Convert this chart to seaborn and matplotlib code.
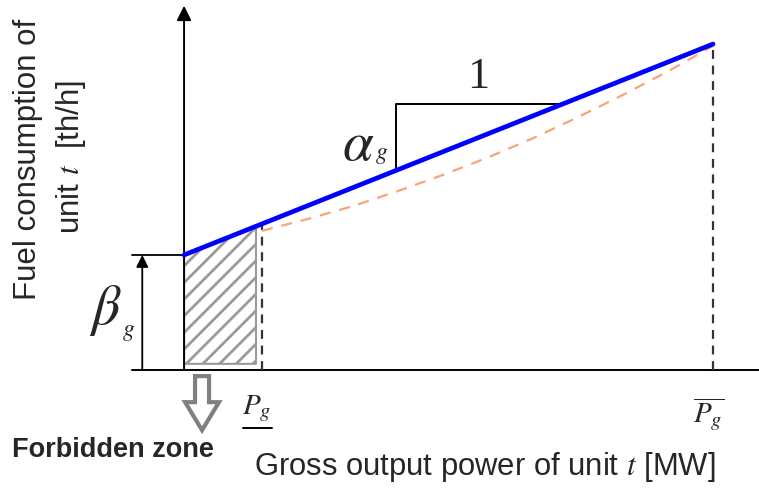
import numpy as np
import pandas as pd
import matplotlib
matplotlib.use("Agg")
import matplotlib.pyplot as plt
import seaborn as sns
from matplotlib.patches import FancyArrow

# %%
# schematic values (arbitrary units: power 0-100, fuel)
p_min = 14.7
p_max = 100
beta = 30
alpha = 0.55

line_power = [0, p_max]
line_fuel = [beta, beta + alpha * p_max]

curve_power = [14.7, 23.2, 31.8, 40.3, 48.8, 57.4, 65.9, 74.4, 82.9, 91.5, 100]
curve_fuel = [36.3, 39.3, 42.7, 46.6, 50.8, 55.4, 60.4, 65.9, 71.7, 77.9, 84.5]

zone_power = [0, 13.6]
zone_bottom = 1.6

slope_power = [40, 71.6]
slope_top = 69.4

# %%
sns.set_theme(style="white")
plt.rcParams["font.family"] = ["Liberation Sans", "DejaVu Sans"]
plt.rcParams["mathtext.fontset"] = "stix"
plt.rcParams["hatch.linewidth"] = 2.0

fig = plt.figure(figsize=(7.59, 4.94), dpi=100)
ax = fig.add_axes([0, 0, 1, 1])
ax.axis("off")

lines = pd.DataFrame({"power": line_power, "fuel": line_fuel})
curve = pd.DataFrame({"power": curve_power, "fuel": curve_fuel})

# forbidden zone
zone_top = [beta + alpha * p for p in zone_power]
ax.fill_between(zone_power, zone_bottom, zone_top, facecolor="white",
                edgecolor="#9a9a9a", hatch="//", lw=1.5, zorder=1)

# axes
ax.plot([-9.8, 108.7], [0, 0], color="black", lw=1.4, zorder=2)
ax.annotate("", xy=(0, 95), xytext=(0, 0),
            arrowprops=dict(arrowstyle="-|>", color="black", lw=1.4,
                            mutation_scale=22, shrinkA=0, shrinkB=0))

# dashed limits
ax.plot([p_min, p_min], [0, beta + alpha * p_min], color="#333333", lw=1.6,
        ls=(0, (4, 3)), zorder=2)
ax.plot([p_max, p_max], [0, beta + alpha * p_max], color="#333333", lw=1.6,
        ls=(0, (4, 3)), zorder=2)

# cost curves
sns.lineplot(data=curve, x="power", y="fuel", ax=ax, color="#F8A37A",
             lw=1.6, linestyle=(0, (5, 4)), zorder=3)
sns.lineplot(data=lines, x="power", y="fuel", ax=ax, color="#0000FF",
             lw=3.4, zorder=4)
ax.set_xlim(-34.8, 108.7)
ax.set_ylim(-32.35, 96.5)

# beta dimension
ax.plot([-9.8, 0], [beta, beta], color="black", lw=1.3)
ax.annotate("", xy=(-7.9, beta), xytext=(-7.9, 0),
            arrowprops=dict(arrowstyle="-|>", color="black", lw=1.3,
                            mutation_scale=18, shrinkA=0, shrinkB=0))
ax.text(-14.8, 15.5, r"$\beta$", fontsize=40, ha="center", va="center")
ax.text(-10.5, 9.8, r"$g$", fontsize=17, ha="center", va="center")

# slope triangle
ax.plot([slope_power[0], slope_power[0], slope_power[1]],
        [beta + alpha * slope_power[0], slope_top, slope_top],
        color="black", lw=1.4, zorder=2)
ax.text(55.6, 76.5, "1", fontsize=32, family="Liberation Serif",
        ha="center", va="center")
ax.text(33.0, 58.5, r"$\alpha$", fontsize=40, ha="center", va="center")
ax.text(37.4, 56.0, r"$g$", fontsize=17, ha="center", va="center")

# power limit labels
ax.text(p_min - 1.0, -10.0, r"$P_g$", fontsize=21, ha="center", va="center")
ax.plot([p_min - 3.6, p_min + 2.0], [-15.2, -15.2], color="black", lw=1.4)
ax.text(p_max - 0.9, -11.5, r"$\overline{P_g}$", fontsize=21,
        ha="center", va="center")

# forbidden zone arrow
ax.add_patch(FancyArrow(3.4, -1.6, 0, -14.1, width=2.65, head_width=6.4,
                        head_length=7.3, length_includes_head=True,
                        fc="white", ec="#808080", lw=3))
ax.text(-32.5, -20.9, "Forbidden zone", fontsize=19.5, fontweight="bold",
        ha="left", va="center")

# axis titles
ax.text(56.9, -25.3, "Gross output power of unit $t$ [MW]", fontsize=22.3,
        ha="center", va="center")
ax.text(-29.6, 55.0, "Fuel consumption of", fontsize=22.5, rotation=90,
        ha="center", va="center")
ax.text(-21.3, 55.5, "unit $t$  [th/h]", fontsize=22.5, rotation=90,
        ha="center", va="center")

fig.savefig("out.png", dpi=100)
